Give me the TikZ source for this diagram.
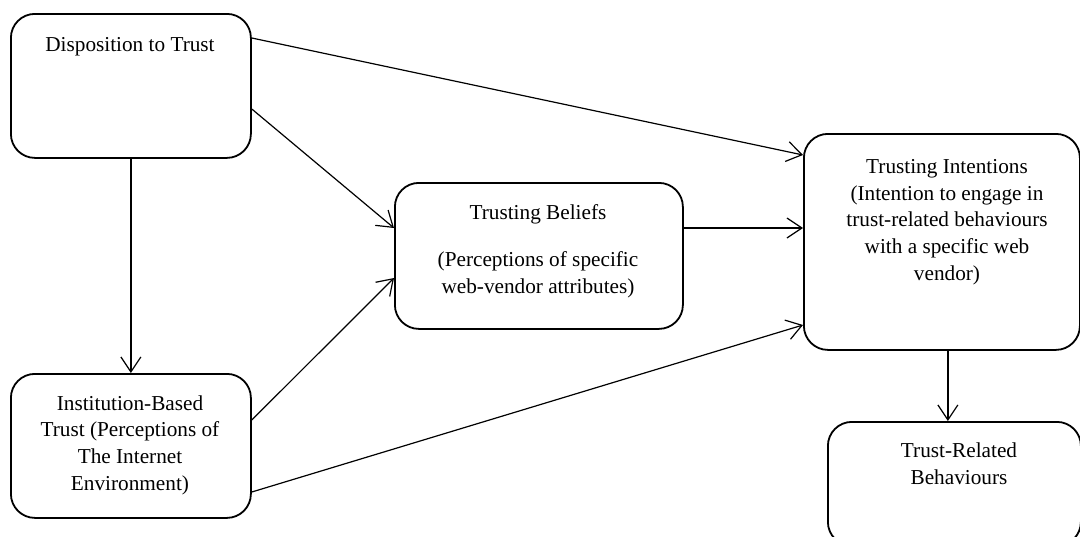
\documentclass[tikz,border=0pt]{standalone}
\usepackage{fontspec}
\setmainfont{Liberation Serif}
\usetikzlibrary{arrows.meta}

\tikzset{
  box/.style={draw=black, line width=1.8pt, rounded corners=24pt, inner sep=0pt, anchor=north west},
  boxtext/.style={align=center, inner sep=0pt, font=\fontsize{21.25}{26.7}\selectfont},
  link/.style={draw=black, line width=1.2pt, -{Straight Barb[length=15pt,width=20pt,line width=1.2pt]}},
}

\begin{document}
\begin{tikzpicture}[x=1pt, y=-1pt]
  \useasboundingbox (0,0) rectangle (1080,536);

  % boxes
  \node[box, minimum width=240pt, minimum height=144pt] (b1) at (10,13) {};
  \node[box, minimum width=240pt, minimum height=144pt] (b2) at (10,373) {};
  \node[box, minimum width=288pt, minimum height=146pt] (b3) at (394,182) {};
  \node[box, minimum width=276pt, minimum height=216pt] (b4) at (803,133) {};
  \node[box, minimum width=253pt, minimum height=124pt] (b5) at (827,421) {};

  % texts
  \node[boxtext] (t1) at (130,47) {Disposition to Trust};
  \node[boxtext] (t2) at (130,445) {Institution-Based\\Trust (Perceptions of\\The Internet\\Environment)};
  \node[boxtext] (t3a) at (538,214) {Trusting Beliefs};
  \node[boxtext] (t3b) at (538,275) {(Perceptions of specific\\web-vendor attributes)};
  \node[boxtext] (t4) at (947,222) {Trusting Intentions\\(Intention to engage in\\trust-related behaviours\\with a specific web\\vendor)};
  \node[boxtext] (t5) at (959,464) {Trust-Related\\Behaviours};

  % connectors
  \draw[link] ([yshift=-25pt]b1.north east) -- ([yshift=-22pt]b4.north west);
  \draw[link] ([yshift=-96pt]b1.north east) -- ([yshift=-46pt]b3.north west);
  \draw[link] ([yshift=-47pt]b2.north east) -- ([yshift=-96pt]b3.north west);
  \draw[link] ([yshift=-119pt]b2.north east) -- ([yshift=-192pt]b4.north west);
  \draw[link] ([yshift=-46pt]b3.north east) -- ([yshift=-95pt]b4.north west);
  \draw[link] (b1.south) -- (b2.north);
  \draw[link] ([xshift=6pt]b4.south) -- ([xshift=-6.5pt]b5.north);
\end{tikzpicture}
\end{document}
